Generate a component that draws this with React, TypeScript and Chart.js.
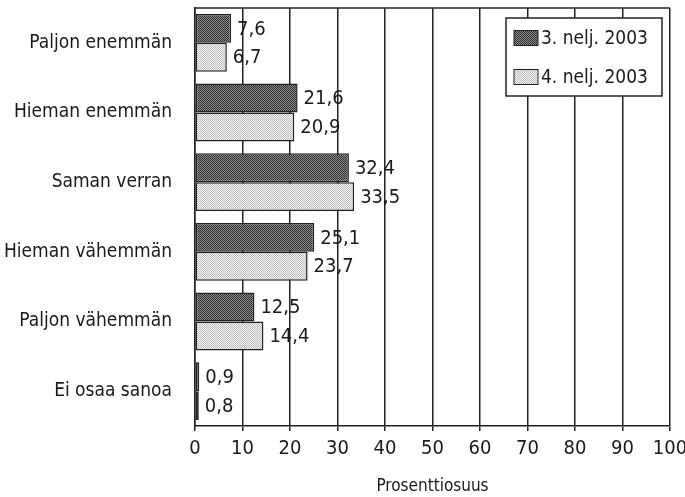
import React, { useEffect, useRef } from "react";
import { Chart, registerables } from "chart.js";

Chart.register(...registerables);

const categories = [
  "Paljon enemmän",
  "Hieman enemmän",
  "Saman verran",
  "Hieman vähemmän",
  "Paljon vähemmän",
  "Ei osaa sanoa",
];
const series1Name = "3. nelj. 2003";
const series1 = [7.6, 21.6, 32.4, 25.1, 12.5, 0.9];
const series2Name = "4. nelj. 2003";
const series2 = [6.7, 20.9, 33.5, 23.7, 14.4, 0.8];
const xTicks = { min: 0, max: 100, step: 10 };
const axisTitle = "Prosenttiosuus";

const FONT = "'Liberation Sans Narrow', 'DejaVu Sans Condensed', 'Arial Narrow', sans-serif";

function makePattern(a: string, b: string): CanvasPattern | string {
  const c = document.createElement("canvas");
  c.width = 2;
  c.height = 2;
  const g = c.getContext("2d");
  if (!g) return a;
  g.fillStyle = b;
  g.fillRect(0, 0, 2, 2);
  g.fillStyle = a;
  g.fillRect(0, 0, 1, 1);
  g.fillRect(1, 1, 1, 1);
  const p = g.createPattern(c, "repeat");
  return p || a;
}

const valueLabels = {
  id: "valueLabels",
  afterDatasetsDraw(chart: any) {
    const ctx = chart.ctx;
    ctx.save();
    ctx.font = `20px ${FONT}`;
    ctx.fillStyle = "#1a1a1a";
    ctx.textBaseline = "middle";
    ctx.textAlign = "left";
    chart.data.datasets.forEach((ds: any, di: number) => {
      const meta = chart.getDatasetMeta(di);
      meta.data.forEach((el: any, i: number) => {
        const v = ds.data[i];
        const txt = String(v).replace(".", ",");
        ctx.fillText(txt, el.x + 6, el.y + 1);
      });
    });
    ctx.restore();
  },
};

const frameAndLegend = {
  id: "frameAndLegend",
  afterDraw(chart: any) {
    const ctx = chart.ctx;
    const a = chart.chartArea;
    ctx.save();
    ctx.strokeStyle = "#222";
    ctx.lineWidth = 1.5;
    ctx.beginPath();
    ctx.moveTo(a.left, a.top);
    ctx.lineTo(a.right, a.top);
    ctx.stroke();

    // legend box
    const bx = a.right - 164;
    const by = a.top + 10;
    const bw = 156;
    const bh = 78;
    ctx.fillStyle = "#ffffff";
    ctx.fillRect(bx, by, bw, bh);
    ctx.strokeRect(bx, by, bw, bh);
    ctx.font = `19px ${FONT}`;
    ctx.textBaseline = "middle";
    ctx.textAlign = "left";
    chart.data.datasets.forEach((ds: any, i: number) => {
      const cy = by + 20 + i * 39;
      ctx.fillStyle = ds.backgroundColor;
      ctx.fillRect(bx + 8, cy - 7.5, 24, 15);
      ctx.lineWidth = 1;
      ctx.strokeStyle = "#222";
      ctx.strokeRect(bx + 8, cy - 7.5, 24, 15);
      ctx.fillStyle = "#1a1a1a";
      ctx.fillText(ds.label, bx + 35, cy + 1);
    });
    ctx.restore();
  },
};

export default function App() {
  const ref = useRef<HTMLCanvasElement>(null);
  useEffect(() => {
    document.body.style.margin = "0";
    const canvas = ref.current;
    if (!canvas) return;
    const dark = makePattern("#2e2e2e", "#8c8c8c");
    const light = makePattern("#bcbcbc", "#f4f4f4");
    const chart = new Chart(canvas, {
      type: "bar",
      data: {
        labels: categories,
        datasets: [
          {
            label: series1Name,
            data: series1,
            backgroundColor: dark as any,
            borderColor: "#222",
            borderWidth: 1.5,
            borderSkipped: false,
            categoryPercentage: 0.83,
            barPercentage: 1.0,
          },
          {
            label: series2Name,
            data: series2,
            backgroundColor: light as any,
            borderColor: "#222",
            borderWidth: 1.5,
            borderSkipped: false,
            categoryPercentage: 0.83,
            barPercentage: 1.0,
          },
        ],
      },
      options: {
        indexAxis: "y",
        animation: false,
        responsive: false,
        maintainAspectRatio: false,
        devicePixelRatio: 1,
        layout: { padding: { top: 8, right: 15, left: 0, bottom: 0 } },
        plugins: {
          legend: { display: false },
          tooltip: { enabled: false },
        },
        scales: {
          x: {
            type: "linear",
            min: xTicks.min,
            max: xTicks.max,
            ticks: {
              stepSize: xTicks.step,
              font: { family: FONT, size: 20 },
              color: "#1a1a1a",
              padding: 6,
            },
            grid: {
              color: "#222",
              lineWidth: 1.5,
              tickLength: 5,
              drawTicks: true,
            },
            border: { display: true, color: "#222", width: 1.5 },
            title: {
              display: true,
              text: axisTitle,
              font: { family: FONT, size: 17 },
              color: "#1a1a1a",
              padding: { top: 10, bottom: 0 },
            },
            afterFit: (scale: any) => {
              scale.height = 71;
              scale.paddingLeft = 0;
              scale.paddingRight = 0;
              scale.paddingTop = 0;
              scale.paddingBottom = 0;
            },
          },
          y: {
            type: "category",
            grid: { display: false, drawTicks: false },
            border: { display: true, color: "#222", width: 1.5 },
            ticks: {
              font: { family: FONT, size: 19 },
              color: "#1a1a1a",
              padding: 23,
            },
            afterFit: (scale: any) => {
              scale.width = 195;
              scale.paddingLeft = 0;
              scale.paddingRight = 0;
              scale.paddingTop = 0;
              scale.paddingBottom = 0;
            },
          },
        },
      },
      plugins: [valueLabels, frameAndLegend],
    });
    return () => chart.destroy();
  }, []);
  return <canvas ref={ref} width={685} height={497} style={{ display: "block" }} />;
}
